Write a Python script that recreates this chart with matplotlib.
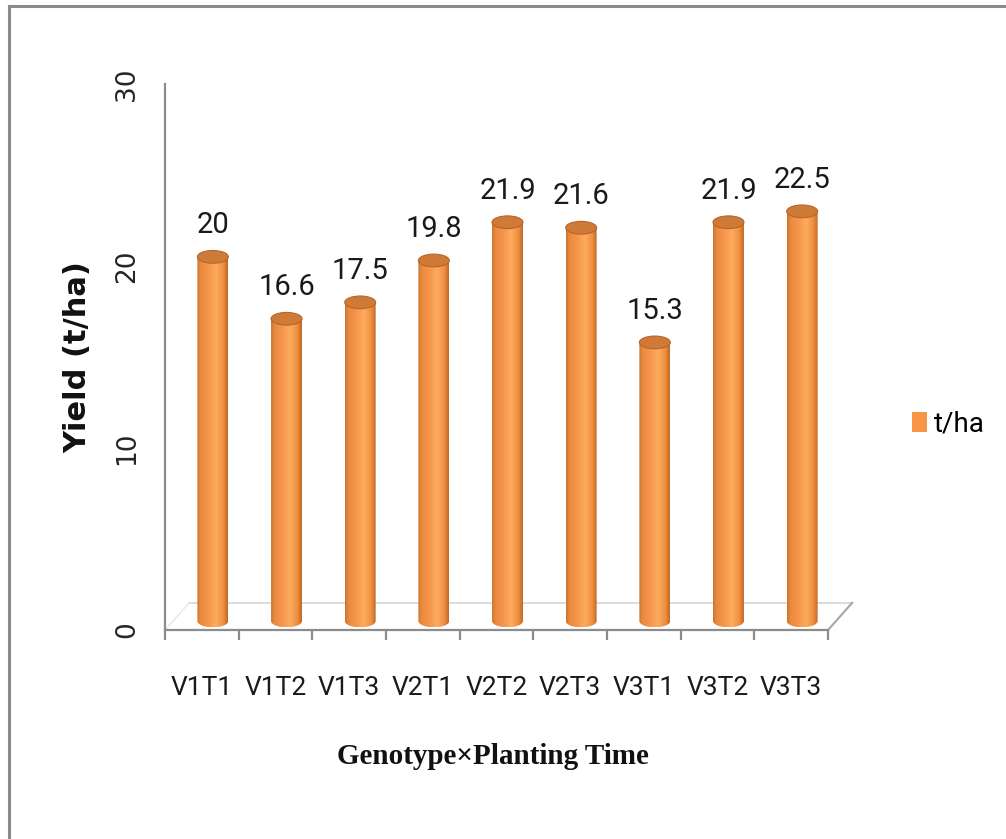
import matplotlib
matplotlib.use('Agg')
import matplotlib.pyplot as plt
import numpy as np
from matplotlib.colors import LinearSegmentedColormap
from matplotlib.patches import Ellipse, Polygon, Patch
from matplotlib.lines import Line2D

# chart data
categories = ['V1T1', 'V1T2', 'V1T3', 'V2T1', 'V2T2', 'V2T3', 'V3T1', 'V3T2', 'V3T3']
yield_tha = [20, 16.6, 17.5, 19.8, 21.9, 21.6, 15.3, 21.9, 22.5]
y_ticks = [0, 10, 20, 30]
series_name = 't/ha'

narrow = ['Roboto', 'DejaVu Sans']
axis_grey = '#8c8c8c'

# fake 3d settings (data units)
depth_x = 0.15
depth_y = 0.5
floor_dx = 0.33
floor_dy = 1.5
bar_w = 0.42
cap_h = 0.35


def main():
    fig = plt.figure(figsize=(10.06, 8.39), dpi=100)
    ax = fig.add_axes([0.164, 0.249, 0.659, 0.651])
    x = np.arange(len(categories))

    # invisible bars give the geometry, cylinders are painted on top
    bars = ax.bar(x + depth_x, yield_tha, width=bar_w, bottom=depth_y,
                  color='none', edgecolor='none', zorder=3)

    shade = LinearSegmentedColormap.from_list('cyl', [
        (0.0, '#c8712f'), (0.1, '#e88a3d'), (0.35, '#f5954a'),
        (0.62, '#fdab5f'), (0.85, '#f09040'), (1.0, '#bf6628')])
    grad = np.linspace(0, 1, 256).reshape(1, -1)

    for rect, val in zip(bars, yield_tha):
        x0 = rect.get_x()
        w = rect.get_width()
        y0 = rect.get_y()
        top = y0 + rect.get_height()
        cx = x0 + w / 2
        t = np.linspace(np.pi, 2 * np.pi, 60)
        verts = [(x0, top)] + list(zip(cx + w / 2 * np.cos(t), y0 + cap_h * np.sin(t))) + [(x0 + w, top)]
        body = Polygon(verts, closed=True, facecolor='none', edgecolor='none')
        ax.add_patch(body)
        im = ax.imshow(grad, cmap=shade, aspect='auto', interpolation='bicubic',
                       extent=[x0, x0 + w, y0 - cap_h, top], zorder=3)
        im.set_clip_path(body)
        ax.add_patch(Ellipse((cx, top), w, 2 * cap_h, facecolor='#cf7b37',
                             edgecolor='#b5652a', lw=0.8, zorder=4))
        ax.annotate('{0:g}'.format(val), xy=(cx, top), xytext=(0, 17),
                    textcoords='offset points', ha='center', va='baseline',
                    fontsize=21, family=narrow, color='#1a1a1a')

    n = len(categories)
    ax.set_xlim(-0.5, n - 0.5)
    ax.set_ylim(y_ticks[0], y_ticks[-1])

    # floor of the 3d plot
    ax.plot([-0.5 + floor_dx, n - 0.5 + floor_dx], [floor_dy, floor_dy],
            color='#d6d6d6', lw=1.2, zorder=1, clip_on=False)
    ax.plot([n - 0.5, n - 0.5 + floor_dx], [0, floor_dy],
            color='#a6a6a6', lw=1.5, zorder=1, clip_on=False)
    ax.plot([-0.5, -0.5 + floor_dx], [0, floor_dy],
            color='#e6e6e6', lw=1.0, zorder=1, clip_on=False)

    for side in ['top', 'right']:
        ax.spines[side].set_visible(False)
    for side in ['left', 'bottom']:
        ax.spines[side].set_color(axis_grey)
        ax.spines[side].set_linewidth(1.6)

    ax.set_xticks(x)
    ax.set_xticklabels(categories, family=narrow, fontsize=19, color='#1a1a1a')
    ax.set_xticks(np.arange(-0.5, n, 1), minor=True)
    ax.tick_params(axis='x', which='major', length=0, pad=33)
    ax.tick_params(axis='x', which='minor', length=7, width=1.6, color=axis_grey)

    ax.set_yticks(y_ticks)
    ax.tick_params(axis='y', length=0, labelrotation=90, pad=18, labelsize=19,
                   labelcolor='#262626')
    for lab in ax.get_yticklabels():
        lab.set_va('center')

    ax.set_ylabel('Yield (t/ha)', fontweight='bold', fontsize=22, color='#111111')
    ax.yaxis.set_label_coords(-0.110, 0.5)
    ax.set_xlabel('Genotype\u00d7Planting Time', family='Liberation Serif',
                  fontweight='bold', fontsize=21, color='#111111')
    ax.xaxis.set_label_coords(0.495, -0.2065)

    fig.legend(handles=[Patch(facecolor='#f79646', edgecolor='none', label=series_name)],
               loc='center left', bbox_to_anchor=(912 / 1006, 1 - 424 / 839),
               frameon=False, prop={'family': narrow, 'size': 20},
               handlelength=0.55, handleheight=0.72, handletextpad=0.25,
               borderpad=0, borderaxespad=0)

    # picture border (left and top only)
    fig.add_artist(Line2D([8.5 / 1006, 8.5 / 1006], [0, 1 - 5.5 / 839],
                          transform=fig.transFigure, color='#8a8a8a', lw=2.2))
    fig.add_artist(Line2D([8.5 / 1006, 1], [1 - 5.5 / 839, 1 - 5.5 / 839],
                          transform=fig.transFigure, color='#8a8a8a', lw=2.2))

    fig.savefig('out.png', dpi=100)


if __name__ == '__main__':
    main()
